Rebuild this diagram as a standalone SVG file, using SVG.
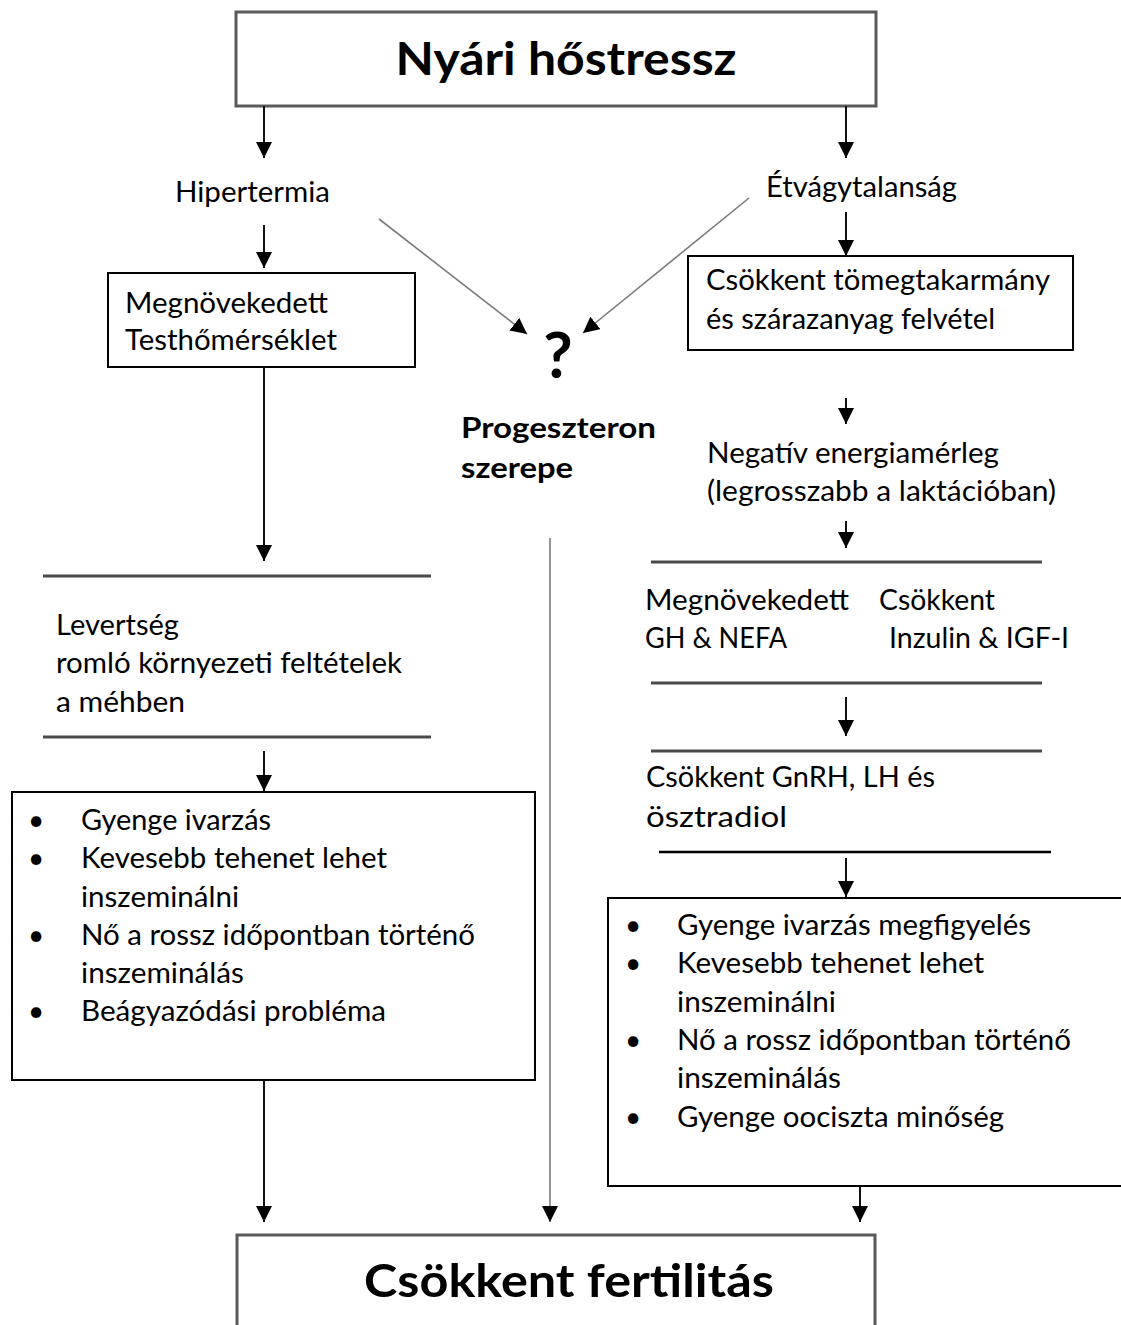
<svg xmlns="http://www.w3.org/2000/svg" width="1121" height="1325" viewBox="0 0 1121 1325">
<defs>
<style>
text{font-family:Lato,"Open Sans","Liberation Sans",sans-serif;fill:#000}
.t{font-size:28px}
.b{font-weight:bold}
.title{font-size:46px;font-weight:bold}
.box{fill:#fff;stroke:#000;stroke-width:2}
.tbox{fill:#fff;stroke:#5a5a5a;stroke-width:3}
.sep{stroke:#4a4a4a;stroke-width:3}
.c{stroke:#111;stroke-width:2;fill:none;marker-end:url(#ah)}
.g{stroke:#7a7a7a;stroke-width:1.6;fill:none;marker-end:url(#ah)}
</style>
<marker id="ah" markerUnits="userSpaceOnUse" markerWidth="16" markerHeight="16" refX="16" refY="8" orient="auto"><path d="M0,0 L16,8 L0,16 z" fill="#000"/></marker>
</defs>
<rect x="0" y="0" width="1121" height="1325" fill="#fff"/>

<g id="node-top">
<rect class="tbox" x="236" y="12" width="640" height="94"/>
<text class="title" x="566" y="75" text-anchor="middle" textLength="341" lengthAdjust="spacingAndGlyphs">Nyári hőstressz</text>
</g>
<g id="node-hipertermia">
<text class="t" x="175" y="202" textLength="155" lengthAdjust="spacingAndGlyphs">Hipertermia</text>
</g>
<g id="node-etvagytalansag">
<text class="t" x="766" y="197" textLength="191" lengthAdjust="spacingAndGlyphs">Étvágytalanság</text>
</g>
<g id="node-testhomerseklet">
<rect class="box" x="108" y="273" width="307" height="94"/>
<text class="t" x="125" y="313" textLength="203" lengthAdjust="spacingAndGlyphs">Megnövekedett</text>
<text class="t" x="125" y="350" textLength="212" lengthAdjust="spacingAndGlyphs">Testhőmérséklet</text>
</g>
<g id="node-takarmany">
<rect class="box" x="688" y="256" width="385" height="94"/>
<text class="t" x="706" y="290" textLength="344" lengthAdjust="spacingAndGlyphs">Csökkent tömegtakarmány</text>
<text class="t" x="706" y="329" textLength="289" lengthAdjust="spacingAndGlyphs">és szárazanyag felvétel</text>
</g>
<g id="node-question">
<text x="558" y="378" text-anchor="middle" style="font-size:64px;font-weight:bold">?</text>
</g>
<g id="node-progeszteron">
<text class="t b" x="461" y="438" textLength="195" lengthAdjust="spacingAndGlyphs">Progeszteron</text>
<text class="t b" x="461" y="478" textLength="112" lengthAdjust="spacingAndGlyphs">szerepe</text>
</g>
<g id="node-energia">
<text class="t" x="707" y="463" textLength="292" lengthAdjust="spacingAndGlyphs">Negatív energiamérleg</text>
<text class="t" x="707" y="501" textLength="349" lengthAdjust="spacingAndGlyphs">(legrosszabb a laktációban)</text>
</g>
<g id="node-hormonok">
<line class="sep" x1="651" y1="562" x2="1042" y2="562"/>
<text class="t" x="645" y="610" textLength="204" lengthAdjust="spacingAndGlyphs">Megnövekedett</text>
<text class="t" x="879" y="610" textLength="116" lengthAdjust="spacingAndGlyphs">Csökkent</text>
<text class="t" x="645" y="648" textLength="142" lengthAdjust="spacingAndGlyphs">GH &amp; NEFA</text>
<text class="t" x="889" y="648" textLength="180" lengthAdjust="spacingAndGlyphs">Inzulin &amp; IGF-I</text>
<line class="sep" x1="651" y1="683" x2="1042" y2="683"/>
</g>
<g id="node-gnrh">
<line class="sep" x1="651" y1="751" x2="1042" y2="751"/>
<text class="t" x="646" y="787" textLength="289" lengthAdjust="spacingAndGlyphs">Csökkent GnRH, LH és</text>
<text class="t" x="646" y="827" textLength="141" lengthAdjust="spacingAndGlyphs">ösztradiol</text>
<line x1="659" y1="852" x2="1051" y2="852" stroke="#000" stroke-width="2.5"/>
</g>
<g id="node-levertseg">
<line class="sep" x1="43" y1="576" x2="431" y2="576"/>
<text class="t" x="56" y="635" textLength="123" lengthAdjust="spacingAndGlyphs">Levertség</text>
<text class="t" x="56" y="673" textLength="346" lengthAdjust="spacingAndGlyphs">romló környezeti feltételek</text>
<text class="t" x="56" y="712" textLength="129" lengthAdjust="spacingAndGlyphs">a méhben</text>
<line class="sep" x1="43" y1="737" x2="431" y2="737"/>
</g>
<g id="node-left-list">
<rect class="box" x="12" y="792" width="523" height="288"/>
<text class="t" x="28" y="830">•</text>
<text class="t" x="81" y="830" textLength="190" lengthAdjust="spacingAndGlyphs">Gyenge ivarzás</text>
<text class="t" x="28" y="868">•</text>
<text class="t" x="81" y="868" textLength="306" lengthAdjust="spacingAndGlyphs">Kevesebb tehenet lehet</text>
<text class="t" x="81" y="907" textLength="158" lengthAdjust="spacingAndGlyphs">inszeminálni</text>
<text class="t" x="28" y="945">•</text>
<text class="t" x="81" y="945" textLength="394" lengthAdjust="spacingAndGlyphs">Nő a rossz időpontban történő</text>
<text class="t" x="81" y="983" textLength="163" lengthAdjust="spacingAndGlyphs">inszeminálás</text>
<text class="t" x="28" y="1021">•</text>
<text class="t" x="81" y="1021" textLength="305" lengthAdjust="spacingAndGlyphs">Beágyazódási probléma</text>
</g>
<g id="node-right-list">
<rect class="box" x="608" y="898" width="530" height="288"/>
<text class="t" x="625" y="935">•</text>
<text class="t" x="677" y="935" textLength="354" lengthAdjust="spacingAndGlyphs">Gyenge ivarzás megfigyelés</text>
<text class="t" x="625" y="973">•</text>
<text class="t" x="677" y="973" textLength="307" lengthAdjust="spacingAndGlyphs">Kevesebb tehenet lehet</text>
<text class="t" x="677" y="1012" textLength="159" lengthAdjust="spacingAndGlyphs">inszeminálni</text>
<text class="t" x="625" y="1050">•</text>
<text class="t" x="677" y="1050" textLength="394" lengthAdjust="spacingAndGlyphs">Nő a rossz időpontban történő</text>
<text class="t" x="677" y="1088" textLength="164" lengthAdjust="spacingAndGlyphs">inszeminálás</text>
<text class="t" x="625" y="1127">•</text>
<text class="t" x="677" y="1127" textLength="327" lengthAdjust="spacingAndGlyphs">Gyenge oociszta minőség</text>
</g>
<g id="node-bottom">
<rect class="tbox" x="237" y="1235" width="638" height="120"/>
<text class="title" x="569" y="1297" text-anchor="middle" textLength="410" lengthAdjust="spacingAndGlyphs">Csökkent fertilitás</text>
</g>

<g id="connectors">
<line class="c" x1="264" y1="106" x2="264" y2="158"/>
<line class="c" x1="846" y1="106" x2="846" y2="158"/>
<line class="c" x1="264" y1="225" x2="264" y2="268"/>
<line class="c" x1="846" y1="212" x2="846" y2="256"/>
<line class="g" x1="379" y1="219" x2="527" y2="334"/>
<line class="g" x1="749" y1="198" x2="583" y2="333"/>
<line class="c" x1="264" y1="367" x2="264" y2="561"/>
<line class="c" x1="846" y1="398" x2="846" y2="424"/>
<line class="c" x1="846" y1="521" x2="846" y2="548"/>
<line class="c" x1="846" y1="697" x2="846" y2="736"/>
<line class="c" x1="846" y1="858" x2="846" y2="897"/>
<line class="c" x1="264" y1="751" x2="264" y2="791"/>
<line class="c" x1="264" y1="1080" x2="264" y2="1222"/>
<line class="g" x1="550" y1="538" x2="550" y2="1222"/>
<line class="c" x1="860" y1="1186" x2="860" y2="1222"/>
</g>
</svg>
